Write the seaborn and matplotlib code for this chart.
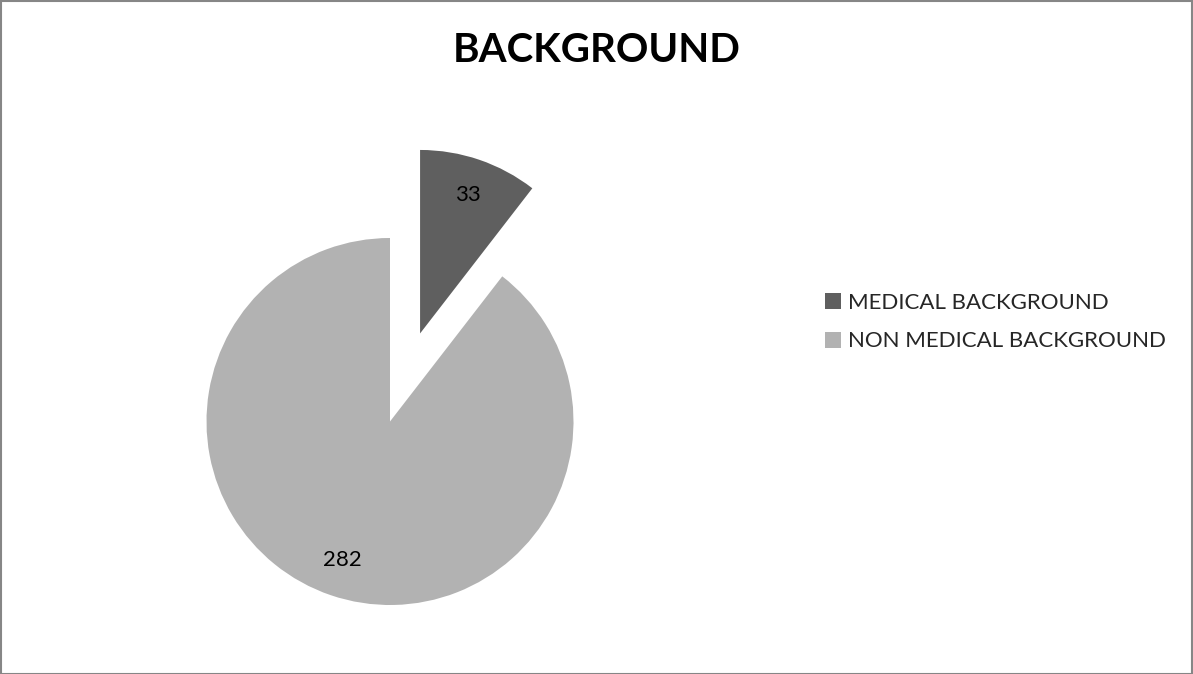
import matplotlib
matplotlib.use("Agg")
import matplotlib.pyplot as plt
import seaborn as sns
from matplotlib.patches import Rectangle

categories = ["MEDICAL BACKGROUND", "NON MEDICAL BACKGROUND"]
values = [33, 282]
colors = ["#5f5f5f", "#b2b2b2"]
title = "BACKGROUND"

sns.set_theme(style="white")
plt.rcParams["font.family"] = ["Lato", "DejaVu Sans"]

W, H = 1193, 674
fig = plt.figure(figsize=(W / 100, H / 100), dpi=100)
fig.patch.set_facecolor("white")

ax = fig.add_axes([0, 0, 1, 1])

R = 183.5
total = sum(values)
wedges, texts, autotexts = ax.pie(
    values,
    colors=colors,
    explode=[0.507 * R, 0],
    startangle=90,
    counterclock=False,
    center=(390, H - 421.5),
    radius=R,
    autopct=lambda p: f"{round(p * total / 100):d}",
    pctdistance=0.80,
    textprops=dict(fontsize=16, color="black", family=["Lato", "DejaVu Sans"]),
    wedgeprops=dict(linewidth=0),
    frame=True,
)
ax.set_xlim(0, W)
ax.set_ylim(0, H)
ax.set_aspect("equal")
ax.axis("off")

fig.text(0.5, 1 - 50 / H, title, ha="center", va="center",
         fontsize=29, fontweight="bold", color="black")

fig.legend(wedges, categories, loc="center left",
           bbox_to_anchor=(825 / W, 1 - 322 / H), frameon=False,
           prop=dict(size=16, family=["Lato", "DejaVu Sans"]),
           handlelength=0.72, handleheight=0.72,
           handletextpad=0.3, labelspacing=0.85, borderpad=0,
           borderaxespad=0)

fig.add_artist(Rectangle((0.5 / W, 0.5 / H), 1 - 1.5 / W, 1 - 1.5 / H,
                         transform=fig.transFigure, fill=False,
                         edgecolor="#868686", linewidth=1.5))

fig.savefig("out.png", dpi=100, facecolor="white")
